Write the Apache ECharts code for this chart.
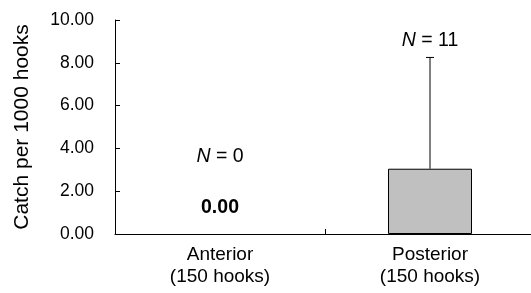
<!DOCTYPE html>
<html>
<head>
<meta charset="utf-8">
<script src="https://cdn.jsdelivr.net/npm/echarts@6/dist/echarts.min.js"></script>
<style>
  html, body { margin: 0; padding: 0; background: #fff; }
  #chart { width: 531px; height: 293px; }
</style>
</head>
<body>
<div id="chart"></div>
<script>
// data
const categories = ['Anterior\n(150 hooks)', 'Posterior\n(150 hooks)'];
const catchValues = [0, 3.05];
const errorUpper = [0, 8.25];
const sampleSizes = [0, 11];
// y positions (data units) for the text annotations
const nLabelY = [3.6, 9.05];
const valueLabelY = [1.25, null];

const chart = echarts.init(document.getElementById('chart'));
const font = 'Arial, "Liberation Sans", sans-serif';

const option = {
  animation: false,
  grid: { left: 115, top: 20, width: 420, height: 214, outerBoundsMode: 'none' },
  xAxis: {
    type: 'category',
    data: categories,
    axisLine: { lineStyle: { color: '#000', width: 1 } },
    axisTick: { show: true, inside: true, length: 5, lineStyle: { color: '#000' } },
    axisLabel: { color: '#000', fontSize: 19, fontFamily: font, lineHeight: 22, margin: 10 }
  },
  yAxis: {
    type: 'value',
    min: 0,
    max: 10,
    interval: 2,
    name: 'Catch per 1000 hooks',
    nameLocation: 'middle',
    nameGap: 82,
    nameTextStyle: { color: '#000', fontSize: 21, fontFamily: font },
    axisLine: { show: true, lineStyle: { color: '#000', width: 1 } },
    axisTick: { show: true, inside: true, length: 5, lineStyle: { color: '#000' } },
    splitLine: { show: false },
    axisLabel: {
      color: '#000', fontSize: 17.5, fontFamily: font, margin: 21,
      formatter: v => v.toFixed(2)
    }
  },
  series: [
    {
      type: 'bar',
      data: catchValues.map(v => ({ value: v, itemStyle: { borderWidth: v > 0 ? 1 : 0 } })),
      barWidth: 84,
      itemStyle: { color: '#c0c0c0', borderColor: '#000', borderWidth: 1 }
    },
    {
      type: 'custom',
      data: catchValues.map((v, i) => [i, v, errorUpper[i]]),
      renderItem: (params, api) => {
        if (api.value(2) <= api.value(1)) return null;
        const base = api.coord([api.value(0), api.value(1)]);
        const top = api.coord([api.value(0), api.value(2)]);
        const style = { stroke: '#000', lineWidth: 1 };
        return {
          type: 'group',
          children: [
            { type: 'line', shape: { x1: base[0], y1: base[1], x2: top[0], y2: top[1] }, style },
            { type: 'line', shape: { x1: top[0] - 4, y1: top[1], x2: top[0] + 4, y2: top[1] }, style }
          ]
        };
      },
      z: 3
    },
    {
      type: 'scatter',
      symbolSize: 0,
      itemStyle: { opacity: 1 },
      data: sampleSizes.map((n, i) => [i, nLabelY[i], n]),
      label: {
        show: true,
        position: 'inside',
        opacity: 1,
        formatter: p => '{i|N} = ' + p.value[2],
        color: '#000',
        fontSize: 19.5,
        fontFamily: font,
        rich: { i: { fontStyle: 'italic', fontSize: 19.5, fontFamily: font, color: '#000' } }
      }
    },
    {
      type: 'scatter',
      symbolSize: 0,
      itemStyle: { opacity: 1 },
      data: valueLabelY.map((y, i) => (y === null ? null : [i, y, catchValues[i]])).filter(d => d),
      label: {
        show: true,
        position: 'inside',
        opacity: 1,
        formatter: p => p.value[2].toFixed(2),
        color: '#000',
        fontSize: 19.5,
        fontWeight: 'bold',
        fontFamily: font
      }
    }
  ]
};

chart.setOption(option);
window.addEventListener('resize', chart.resize);
</script>
</body>
</html>
